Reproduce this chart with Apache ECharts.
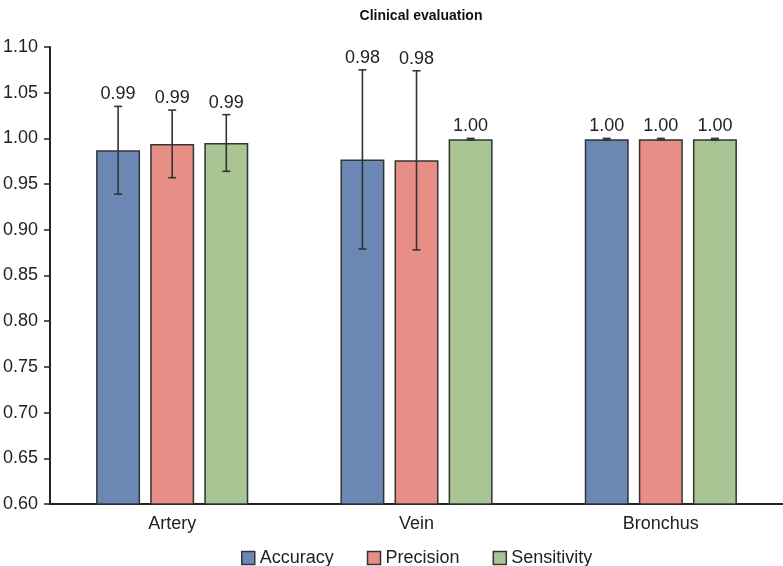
<!DOCTYPE html>
<html>
<head>
<meta charset="utf-8">
<script src="https://cdn.jsdelivr.net/npm/echarts@6/dist/echarts.min.js"></script>
<style>
  html, body { margin: 0; padding: 0; background: #fff; }
  #chart { width: 783px; height: 566px; }
</style>
</head>
<body>
<div id="chart"></div>
<script>
// data
const categories = ['Artery', 'Vein', 'Bronchus'];
const accuracy = [0.987, 0.977, 0.999];
const precision = [0.994, 0.976, 0.999];
const sensitivity = [0.995, 0.999, 0.999];
const accuracyErr = [0.048, 0.098, 0.001];
const precisionErr = [0.037, 0.098, 0.001];
const sensitivityErr = [0.031, 0.001, 0.001];
const yTicks = [0.60, 0.65, 0.70, 0.75, 0.80, 0.85, 0.90, 0.95, 1.00, 1.05, 1.10];

const colors = ['#6a88b3', '#e78e87', '#aac594'];
const font = 'Liberation Sans, Arial, sans-serif';
const barFrac = 0.18;
const gapFrac = 0.23;

const chart = echarts.init(document.getElementById('chart'));

// error bar + value label drawn on top of each bar
function errSeries(idx, vals, errs) {
  return {
    type: 'custom',
    z: 5,
    clip: false,
    data: vals.map((v, i) => [i, v, errs[i]]),
    renderItem: function (params, api) {
      const band = api.size([1, 0])[0];
      const bw = band * barFrac;
      const off = (idx - 1) * bw * (1 + gapFrac);
      const c = api.coord([api.value(0), api.value(1)]);
      const x = c[0] + off;
      const top = api.coord([api.value(0), api.value(1) + api.value(2)])[1];
      const bot = api.coord([api.value(0), api.value(1) - api.value(2)])[1];
      const cap = 4;
      const st = { stroke: '#333', lineWidth: 1.6 };
      return {
        type: 'group',
        children: [
          { type: 'line', shape: { x1: x, y1: top, x2: x, y2: bot }, style: st },
          { type: 'line', shape: { x1: x - cap, y1: top, x2: x + cap, y2: top }, style: st },
          { type: 'line', shape: { x1: x - cap, y1: bot, x2: x + cap, y2: bot }, style: st },
          {
            type: 'text',
            style: {
              x: x, y: top - 3,
              text: api.value(1).toFixed(2),
              textAlign: 'center', textVerticalAlign: 'bottom',
              fill: '#222', fontSize: 18, fontFamily: font
            }
          }
        ]
      };
    }
  };
}

function barSeries(name, vals, color) {
  return {
    name: name,
    type: 'bar',
    data: vals,
    barWidth: (barFrac * 100) + '%',
    barGap: (gapFrac * 100) + '%',
    itemStyle: { color: color, borderColor: '#333', borderWidth: 1.5 }
  };
}

chart.setOption({
  animation: false,
  textStyle: { fontFamily: font },
  title: {
    text: 'Clinical evaluation',
    left: 416, top: 4, textAlign: 'center',
    textStyle: { fontSize: 14, fontWeight: 'bold', color: '#111', fontFamily: font }
  },
  legend: {
    data: ['Accuracy', 'Precision', 'Sensitivity'],
    left: 236, top: 544,
    icon: 'rect', itemWidth: 13, itemHeight: 13, itemGap: 33,
    itemStyle: { borderColor: '#333', borderWidth: 1.5 },
    textStyle: { fontSize: 18, color: '#222', fontFamily: font }
  },
  grid: { left: 49, right: 0, top: 47, bottom: 62, containLabel: false },
  xAxis: {
    type: 'category',
    data: categories,
    axisLine: { lineStyle: { color: '#222', width: 2 } },
    axisTick: { alignWithLabel: true, length: 6, lineStyle: { color: '#222', width: 1.5 } },
    axisLabel: { fontSize: 18, color: '#222', margin: 11, fontFamily: font }
  },
  yAxis: {
    type: 'value',
    min: 0.60, max: 1.10, interval: 0.05,
    splitLine: { show: false },
    axisLine: { show: true, lineStyle: { color: '#222', width: 2 } },
    axisTick: { show: true, length: 6, lineStyle: { color: '#222', width: 1.5 } },
    axisLabel: {
      fontSize: 18, color: '#222', margin: 12, fontFamily: font,
      formatter: v => {
        const t = yTicks.find(k => Math.abs(k - v) < 1e-6);
        return t !== undefined ? t.toFixed(2) : '';
      }
    }
  },
  series: [
    barSeries('Accuracy', accuracy, colors[0]),
    barSeries('Precision', precision, colors[1]),
    barSeries('Sensitivity', sensitivity, colors[2]),
    errSeries(0, accuracy, accuracyErr),
    errSeries(1, precision, precisionErr),
    errSeries(2, sensitivity, sensitivityErr)
  ]
});
</script>
</body>
</html>
